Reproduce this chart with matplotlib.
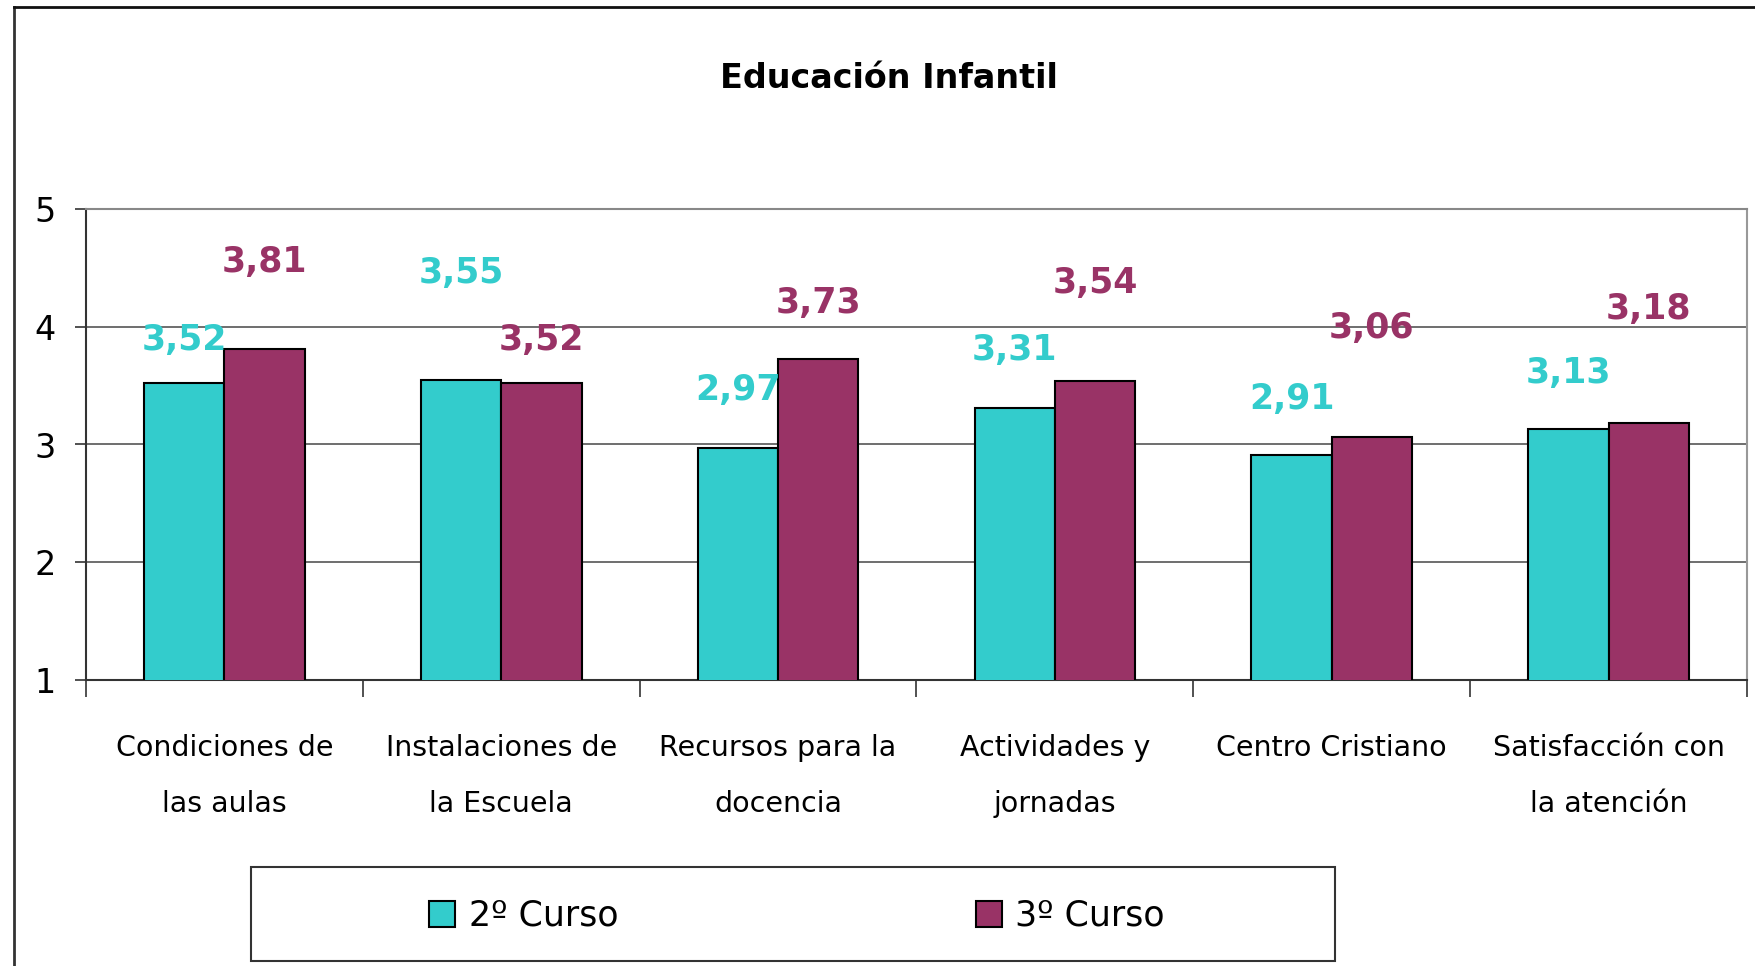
import matplotlib
matplotlib.use("Agg")
import matplotlib.pyplot as plt
from matplotlib.lines import Line2D
from matplotlib.patches import Rectangle, Patch
import numpy as np

categories = ["Condiciones de\nlas aulas", "Instalaciones de\nla Escuela",
              "Recursos para la\ndocencia", "Actividades y\njornadas",
              "Centro Cristiano", "Satisfacción con\nla atención"]
curso2 = [3.52, 3.55, 2.97, 3.31, 2.91, 3.13]
curso3 = [3.81, 3.52, 3.73, 3.54, 3.06, 3.18]
series_names = ["2º Curso", "3º Curso"]
# vertical position of the value labels above each bar (data units, as placed in the original)
label_off2 = [0.37, 0.91, 0.49, 0.49, 0.48, 0.48]
label_off3 = [0.74, 0.37, 0.47, 0.83, 0.93, 0.97]
yticks = [1, 2, 3, 4, 5]

c2 = "#33CCCC"
c3 = "#993366"

plt.rcParams['font.family'] = ['DejaVu Sans']
W, H = 1756, 966
fig = plt.figure(figsize=(W / 100, H / 100), dpi=100)
fig.patch.set_facecolor("white")

ax = fig.add_axes([86 / W, 1 - 680 / H, (1747 - 86) / W, (680 - 209) / H])
x = np.arange(len(categories))
bw = 0.29
ax.bar(x - bw / 2, curso2, bw, color=c2, edgecolor="black", linewidth=1.5, zorder=3)
ax.bar(x + bw / 2, curso3, bw, color=c3, edgecolor="black", linewidth=1.5, zorder=3)

for i in range(len(x)):
    ax.text(x[i] - bw / 2, curso2[i] + label_off2[i], f"{curso2[i]:.2f}".replace(".", ","),
            ha="center", va="center", color=c2, fontsize=25, fontweight="bold", zorder=4)
    ax.text(x[i] + bw / 2, curso3[i] + label_off3[i], f"{curso3[i]:.2f}".replace(".", ","),
            ha="center", va="center", color=c3, fontsize=25, fontweight="bold", zorder=4)

ax.set_xlim(-0.5, len(categories) - 0.5)
ax.set_ylim(1, 5)
ax.set_yticks(yticks)
ax.set_yticklabels([str(t) for t in yticks], fontsize=24)
ax.yaxis.grid(True, color="#555555", linewidth=1.2, zorder=0)
ax.tick_params(axis="y", length=8, width=1.2, pad=14, color="#333333")

ax.set_xticks(x)
ax.set_xticklabels(categories, fontsize=20.5, linespacing=2.25)
ax.tick_params(axis="x", which="major", length=0, pad=39)
ax.set_xticks(np.arange(len(categories) + 1) - 0.5, minor=True)
ax.tick_params(axis="x", which="minor", length=12, width=1.2, color="#333333")

for s in ["left", "bottom"]:
    ax.spines[s].set_color("#333333")
    ax.spines[s].set_linewidth(1.5)
ax.spines["top"].set_color("#888888")
ax.spines["top"].set_linewidth(1.5)
ax.spines["right"].set_color("#999999")
ax.spines["right"].set_linewidth(1.5)

fig.text(889 / W, 1 - 78 / H, "Educación Infantil", ha="center", va="center",
         fontsize=24, fontweight="bold")

# outer chart border (left and top visible)
fig.add_artist(Line2D([14 / W, 14 / W], [0, 1 - 7 / H], color="#333333", linewidth=2, transform=fig.transFigure))
fig.add_artist(Line2D([14 / W, 1], [1 - 7 / H, 1 - 7 / H], color="#111111", linewidth=2, transform=fig.transFigure))

# legend frame
fig.add_artist(Rectangle((251 / W, 1 - 961 / H), (1335 - 251) / W, (961 - 867) / H,
                         transform=fig.transFigure, fill=False, edgecolor="#333333", linewidth=1.5))
handles = [Patch(facecolor=c2, edgecolor="black", linewidth=1.5),
           Patch(facecolor=c3, edgecolor="black", linewidth=1.5)]
fig.legend(handles, series_names, loc="center", bbox_to_anchor=(797 / W, 1 - 916 / H),
           ncol=2, frameon=False, fontsize=25, handlelength=0.75, handleheight=0.8,
           handletextpad=0.38, columnspacing=10.3)

fig.savefig("out.png", dpi=100, facecolor="white")
